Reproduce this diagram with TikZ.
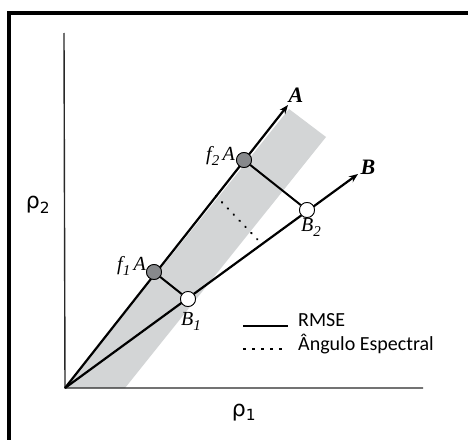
\documentclass[tikz,border=0pt]{standalone}
\usepackage{fontspec}
\setmainfont{Liberation Serif}
\newfontfamily\legendfont{Carlito}
\newfontfamily\rhofont{DejaVu Sans}
\usetikzlibrary{arrows.meta}
\definecolor{bandgray}{RGB}{211,213,214}
\definecolor{ptgray}{RGB}{135,137,140}
\definecolor{axisgray}{RGB}{40,40,40}
\newcommand{\mysub}[1]{\raisebox{-0.25em}{\fontsize{15}{16}\selectfont #1}}
\tikzset{
  vec/.style={line width=2.2pt, black},
  vecarrow/.style={vec, -{Stealth[length=9pt,width=7pt]}},
  axisline/.style={line width=1.4pt, axisgray},
  rmse/.style={line width=2pt, black},
  spectral/.style={line width=2.2pt, black, line cap=round, dash pattern=on 0.5pt off 8pt},
  apt/.style={circle, draw=black, line width=0.8pt, fill=ptgray, minimum size=15pt, inner sep=0pt},
  bpt/.style={circle, draw=black, line width=0.8pt, fill=white, minimum size=15pt, inner sep=0pt},
  lbl/.style={font=\fontsize{20}{22}\selectfont\itshape, inner sep=0pt},
  biglbl/.style={font=\fontsize{22}{24}\selectfont\bfseries\itshape, inner sep=0pt},
  rholbl/.style={font=\fontsize{22}{24}\selectfont, inner sep=0pt},
  legtxt/.style={font=\legendfont\fontsize{20}{22}\selectfont, inner sep=0pt, anchor=west},
}
\begin{document}
\begin{tikzpicture}[x=1pt,y=-1pt]
\useasboundingbox (0,0) rectangle (468,439);
\clip (0,0) rectangle (468,439);
\fill[white] (0,0) rectangle (468,439);
% frame
\draw[line width=4pt, black] (9,13) rectangle (490,460);
% coordinates
\coordinate (O) at (65,388);
\coordinate (ytop) at (64,33);
\coordinate (xend) at (423,388);
\coordinate (Atip) at (288,105);
\coordinate (Btip) at (358,174);
\coordinate (bandBR) at (125,388);
\coordinate (bandTR) at (326,137);
\coordinate (bandTL) at (289,109);
% gray band
\fill[bandgray] (O) -- (bandBR) -- (bandTR) -- (bandTL) -- cycle;
% axes
\draw[axisline] (ytop) -- (O) -- (xend);
% vectors
\draw[vecarrow] (O) -- (Atip);
\draw[vecarrow] (O) -- (Btip);
% points
\node[apt] (f1A) at (154,272) {};
\node[apt] (f2A) at (244,160) {};
\node[bpt] (B1) at (188,299) {};
\node[bpt] (B2) at (307,210) {};
% RMSE segments
\draw[rmse] (f1A) -- (B1);
\draw[rmse] (f2A) -- (B2);
% spectral angle dotted
\coordinate (d1) at (216,196);
\coordinate (d2) at (258,240);
\draw[spectral] (d1) -- (d2);
% redraw points on top
\node[apt] at (f1A) {};
\node[apt] at (f2A) {};
\node[bpt] at (B1) {};
\node[bpt] at (B2) {};
% labels
\node[biglbl] (lA) at (296,95) {A};
\node[biglbl] (lB) at (368,167) {B};
\node[lbl, anchor=east] (lf2) at (235,156) {f\mysub{2}\,A};
\node[lbl, anchor=east] (lf1) at (146,266) {f\mysub{1}\,A};
\node[lbl] (lB2) at (311,227) {B\mysub{2}};
\node[lbl] (lB1) at (191,321) {B\mysub{1}};
\node[rholbl] (rho2) at (38,205) {\rhofont ρ\textsubscript{2}};
\node[rholbl] (rho1) at (244,413) {\rhofont ρ\textsubscript{1}};
% legend
\coordinate (l1a) at (243,326);
\coordinate (l1b) at (288,326);
\coordinate (l2a) at (243,349);
\coordinate (l2b) at (288,349);
\draw[rmse] (l1a) -- (l1b);
\draw[line width=2pt, dash pattern=on 3pt off 6pt] (l2a) -- (l2b);
\node[legtxt] (tRMSE) at (298,320) {RMSE};
\node[legtxt] (tAng) at (298,344) {Ângulo Espectral};
\end{tikzpicture}
\end{document}
